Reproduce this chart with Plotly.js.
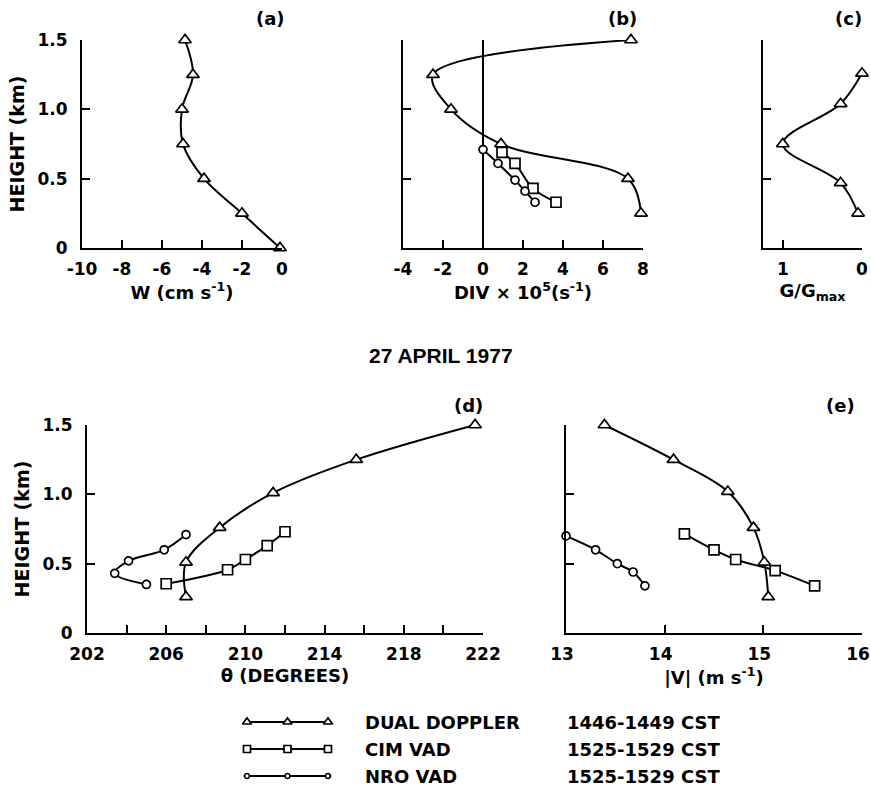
<!DOCTYPE html>
<html>
<head>
<meta charset="utf-8">
<script src="https://cdn.plot.ly/plotly-3.0.1.min.js"></script>
<style>html,body{margin:0;padding:0;background:#fff;}#chart{width:871px;height:788px;}</style>
</head>
<body>
<div id="chart"></div>
<script>
// ---------- DATA ----------
// (a) vertical velocity, dual Doppler
const heightsA = [0, 0.25, 0.5, 0.75, 1.0, 1.25, 1.5];
const wValues  = [-0.1, -2.0, -3.9, -4.95, -5.0, -4.45, -4.85];

// (b) divergence x 10^5
const ddHeightsB  = [0.25, 0.5, 0.75, 1.0, 1.25, 1.5];
const divDD       = [7.9, 7.25, 0.9, -1.6, -2.5, 7.4];
const cimHeightsB = [0.33, 0.43, 0.61, 0.69];
const divCIM      = [3.65, 2.5, 1.6, 0.95];
const nroHeightsB = [0.33, 0.41, 0.49, 0.61, 0.71];
const divNRO      = [2.6, 2.1, 1.6, 0.75, 0.0];

// (c) G/Gmax
const heightsC = [0.25, 0.47, 0.75, 1.04, 1.26];
const gValues  = [0.05, 0.27, 1.0, 0.27, 0.0];

// (d) wind direction theta (degrees)
const ddHeightsD  = [0.26, 0.51, 0.76, 1.01, 1.25, 1.5];
const thetaDD     = [207.0, 207.0, 208.7, 211.4, 215.6, 221.6];
const cimHeightsD = [0.355, 0.456, 0.53, 0.63, 0.73];
const thetaCIM    = [206.0, 209.1, 210.0, 211.1, 212.0];
const nroHeightsD = [0.35, 0.43, 0.52, 0.60, 0.71];
const thetaNRO    = [205.0, 203.4, 204.1, 205.9, 207.0];

// (e) wind speed |V| (m/s)
const ddHeightsE  = [0.26, 0.51, 0.76, 1.02, 1.25, 1.5];
const speedDD     = [15.05, 15.01, 14.90, 14.64, 14.09, 13.39];
const cimHeightsE = [0.34, 0.45, 0.53, 0.60, 0.715];
const speedCIM    = [15.52, 15.12, 14.72, 14.5, 14.2];
const nroHeightsE = [0.34, 0.44, 0.50, 0.60, 0.70];
const speedNRO    = [13.8, 13.68, 13.52, 13.3, 13.0];

// tick labels
const heightTicks   = [0, 0.5, 1.0, 1.5];
const heightLabels  = ['0', '0.5', '1.0', '1.5'];
const wTicks        = [-10, -8, -6, -4, -2, 0];
const divTicks      = [-4, -2, 0, 2, 4, 6, 8];
const gTicks        = [1, 0];
const thetaTicks    = [202, 206, 210, 214, 218, 222];
const thetaMinorTicks = [204, 208, 212, 216, 220];
const speedTicks    = [13, 14, 15, 16];

// legend
const seriesNames = ['DUAL DOPPLER', 'CIM VAD', 'NRO VAD'];
const seriesTimes = ['1446-1449 CST', '1525-1529 CST', '1525-1529 CST'];
const legendSampleX = [0, 1, 2];

// ---------- STYLE ----------
const W = 871, H = 788;
const px = x => x / W;
const py = y => (H - y) / H;
const F = 'DejaVu Sans';
const symbols = {dd: 'triangle-up', cim: 'square', nro: 'circle'};
const sizes = {dd: 11, cim: 10, nro: 8};

function series(x, y, kind, xa, ya, legend) {
  return {
    x: x, y: y, xaxis: xa, yaxis: ya, type: 'scatter', mode: 'lines+markers',
    line: {color: 'black', width: 2, shape: legend ? 'linear' : 'spline', smoothing: 1},
    marker: {symbol: symbols[kind], size: legend ? sizes[kind] - 3 : sizes[kind],
             color: 'white', line: {color: 'black', width: 1.7}},
    cliponaxis: false, hoverinfo: 'skip', showlegend: false
  };
}

const traces = [
  series(wValues, heightsA, 'dd', 'x', 'y'),
  series(divDD, ddHeightsB, 'dd', 'x2', 'y2'),
  series(divCIM, cimHeightsB, 'cim', 'x2', 'y2'),
  series(divNRO, nroHeightsB, 'nro', 'x2', 'y2'),
  series(gValues, heightsC, 'dd', 'x3', 'y3'),
  series(thetaDD, ddHeightsD, 'dd', 'x4', 'y4'),
  series(thetaCIM, cimHeightsD, 'cim', 'x4', 'y4'),
  series(thetaNRO, nroHeightsD, 'nro', 'x4', 'y4'),
  series(speedDD, ddHeightsE, 'dd', 'x5', 'y5'),
  series(speedCIM, cimHeightsE, 'cim', 'x5', 'y5'),
  series(speedNRO, nroHeightsE, 'nro', 'x5', 'y5')
];
['dd', 'cim', 'nro'].forEach((k, i) => {
  traces.push(series(legendSampleX, legendSampleX.map(() => 3 - i), k, 'x6', 'y6', true));
});
// invisible carrier trace so the overlaid minor-tick axis of panel (d) is drawn
traces.push({x: thetaMinorTicks, y: thetaMinorTicks.map(() => 0), xaxis: 'x7', yaxis: 'y4',
             type: 'scatter', mode: 'markers', marker: {opacity: 0}, hoverinfo: 'skip', showlegend: false});

const base = {
  showline: true, linecolor: 'black', linewidth: 2, mirror: false,
  ticks: 'inside', ticklen: 8, tickwidth: 2, tickcolor: 'black',
  showgrid: false, zeroline: false, fixedrange: true, ticklabeloverflow: 'allow',
  tickfont: {family: F, size: 17, color: 'black', weight: 'bold'}
};
const titleFont = {family: F, size: 18, color: 'black', weight: 'bold'};

function xa(domain, range, tickvals, title, anchor, extra) {
  return Object.assign({}, base, {
    domain: domain, range: range, tickmode: 'array', tickvals: tickvals,
    ticktext: tickvals.map(String), anchor: anchor, ticklabelstandoff: 5,
    title: {text: title, font: titleFont, standoff: 6}
  }, extra || {});
}
function ya(domain, anchor, showLabels, title) {
  const o = Object.assign({}, base, {
    domain: domain, range: [0, 1.5], tickmode: 'array', tickvals: heightTicks,
    ticktext: heightLabels, showticklabels: showLabels, anchor: anchor, ticklabelstandoff: 9
  });
  if (title) o.title = {text: title, font: Object.assign({}, titleFont, {size: 19}), standoff: 8};
  return o;
}

const topY = [py(248), py(40)];
const botY = [py(633), py(425)];

const ann = [];
function label(text, x, y, size, anchor, fam) {
  ann.push({text: text, x: px(x), y: py(y), xref: 'paper', yref: 'paper', showarrow: false,
            xanchor: anchor || 'center', yanchor: 'middle',
            font: {family: fam || F, size: size, color: 'black', weight: 'bold'}});
}
label('(a)', 270, 18, 18);
label('(b)', 622, 18, 18);
label('(c)', 848, 18, 18);
label('(d)', 468, 405, 18);
label('(e)', 840, 405, 18);
label('27 APRIL 1977', 441, 355, 21, 'center', 'Liberation Sans');
seriesNames.forEach((n, i) => label(n, 363, 722 + 27 * i, 18, 'left'));
seriesTimes.forEach((t, i) => label(t, 565, 722 + 27 * i, 18, 'left'));

const layout = {
  width: W, height: H, margin: {l: 0, r: 0, t: 0, b: 0},
  paper_bgcolor: 'white', plot_bgcolor: 'rgba(0,0,0,0)', showlegend: false,
  font: {family: F, color: 'black'},
  xaxis:  xa([px(82), px(282)], [-10, 0], wTicks, 'W (cm s<sup>-1</sup>)', 'y'),
  yaxis:  ya(topY, 'x', true, 'HEIGHT (km)'),
  xaxis2: xa([px(403), px(643)], [-4, 8], divTicks, 'DIV × 10<sup>5</sup>(s<sup>-1</sup>)', 'y2',
             {zeroline: true, zerolinecolor: 'black', zerolinewidth: 1.5}),
  yaxis2: ya(topY, 'x2', false),
  xaxis3: xa([px(763), px(862)], [1.25, 0], gTicks, 'G/G<sub>max</sub>', 'y3'),
  yaxis3: ya(topY, 'x3', false),
  xaxis4: xa([px(87), px(483)], [202, 222], thetaTicks, 'θ (DEGREES)', 'y4'),
  xaxis7: {overlaying: 'x4', anchor: 'y4', side: 'bottom', range: [202, 222], fixedrange: true,
           tickmode: 'array', tickvals: thetaMinorTicks, showticklabels: false, showline: false,
           ticks: 'inside', ticklen: 8, tickwidth: 2, tickcolor: 'black', showgrid: false, zeroline: false},
  yaxis4: ya(botY, 'x4', true, 'HEIGHT (km)'),
  xaxis5: xa([px(566), px(862)], [13, 16], speedTicks, '|V| (m s<sup>-1</sup>)', 'y5', {ticklabelshift: -4}),
  yaxis5: ya(botY, 'x5', false),
  xaxis6: {domain: [px(247), px(328)], range: [0, 2], visible: false, fixedrange: true, anchor: 'y6'},
  yaxis6: {domain: [py(786.8), py(711.2)], range: [0.6, 3.4], visible: false, fixedrange: true, anchor: 'x6'},
  annotations: ann
};

Plotly.newPlot('chart', traces, layout, {staticPlot: true, displayModeBar: false});
</script>
</body>
</html>
